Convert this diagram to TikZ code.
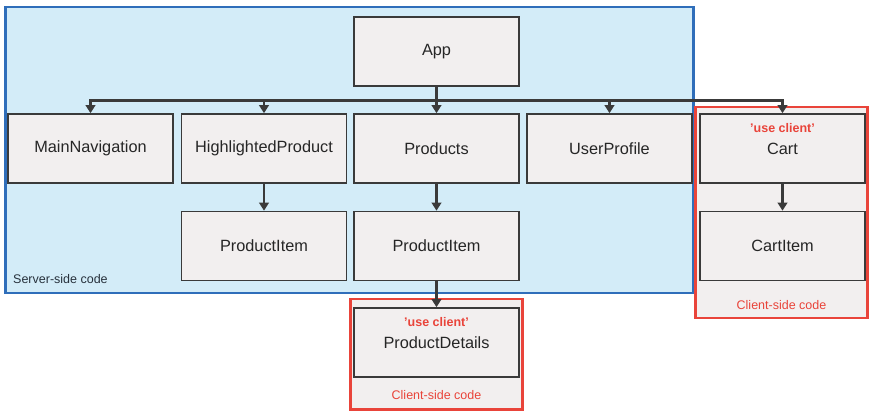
\documentclass[tikz,border=0pt]{standalone}
\usepackage{fontspec}
\setmainfont{Liberation Sans}
\usetikzlibrary{arrows.meta,positioning,calc}
\definecolor{srvfill}{HTML}{D3ECF8}
\definecolor{srvline}{HTML}{2F6EBA}
\definecolor{boxfill}{HTML}{F2EFEF}
\definecolor{boxline}{HTML}{3A3A3A}
\definecolor{boxtext}{HTML}{262626}
\definecolor{clired}{HTML}{E9443A}
\tikzset{
  comp/.style={draw=boxline, line width=1.6pt, fill=boxfill, minimum width=165pt, minimum height=69pt, inner sep=0pt, font=\fontsize{16.3}{18}\selectfont, text=boxtext},
  arr/.style={draw=boxline, line width=2.6pt, -{Triangle[width=9.5pt,length=8pt]}},
  plain/.style={draw=boxline, line width=2.6pt},
  region/.style={line width=2.2pt},
  usecl/.style={font=\fontsize{12.5}{14}\selectfont\bfseries, text=clired, inner sep=0pt},
  regtag/.style={font=\fontsize{12.5}{14}\selectfont, inner sep=0pt},
}
\begin{document}
\begin{tikzpicture}[x=1pt,y=-1pt]
\useasboundingbox (0,0) rectangle (877,417);
% regions
\draw[region, draw=srvline, fill=srvfill] (5.5,7) rectangle (693.5,293);
\draw[region, draw=clired, line width=2.6pt, fill=boxfill] (695.5,107) rectangle (867.5,318);
\draw[region, draw=clired, line width=2.6pt, fill=boxfill] (350.5,299) rectangle (522.5,409.5);
% components
\node[comp] (app) at (436.5,51.5) {App};
\node[comp] (mainnav) at (90.5,148.5) {MainNavigation};
\node[comp] (hp) at (264,148.5) {HighlightedProduct};
\node[comp] (products) at (436.5,148.5) {Products};
\node[comp] (user) at (609.5,148.5) {UserProfile};
\node[comp] (cart) at (782.5,148.5) {\raisebox{-2pt}{Cart}};
\node[comp] (pi1) at (264,246) {ProductItem};
\node[comp] (pi2) at (436.5,246) {ProductItem};
\node[comp] (cartitem) at (782.5,246) {CartItem};
\node[comp] (pd) at (436.5,342.5) {\raisebox{-2pt}{ProductDetails}};
% labels
\node[usecl] (cartuse) at (782.5,128) {'use client'};
\node[usecl] (pduse) at (436.5,322) {'use client'};
\node[regtag, text=boxtext!85!srvline, anchor=west] (srvtag) at (13,279) {Server-side code};
\node[regtag, text=clired] (carttag) at (781.5,305) {Client-side code};
\node[regtag, text=clired] (pdtag) at (436.5,395.5) {Client-side code};
% connectors
\coordinate (bus) at ($(app.south)+(0,14)$);
\draw[plain] (app.south) -- (bus);
\draw[arr] (bus) -| (mainnav.north);
\draw[arr] (bus) -| (hp.north);
\draw[arr] (bus) -- (products.north);
\draw[arr] (bus) -| (user.north);
\draw[arr] (bus) -| (cart.north);
\draw[arr] (hp.south) -- (pi1.north);
\draw[arr] (products.south) -- (pi2.north);
\draw[arr] (pi2.south) -- (pd.north);
\draw[arr] (cart.south) -- (cartitem.north);
\end{tikzpicture}
\end{document}
